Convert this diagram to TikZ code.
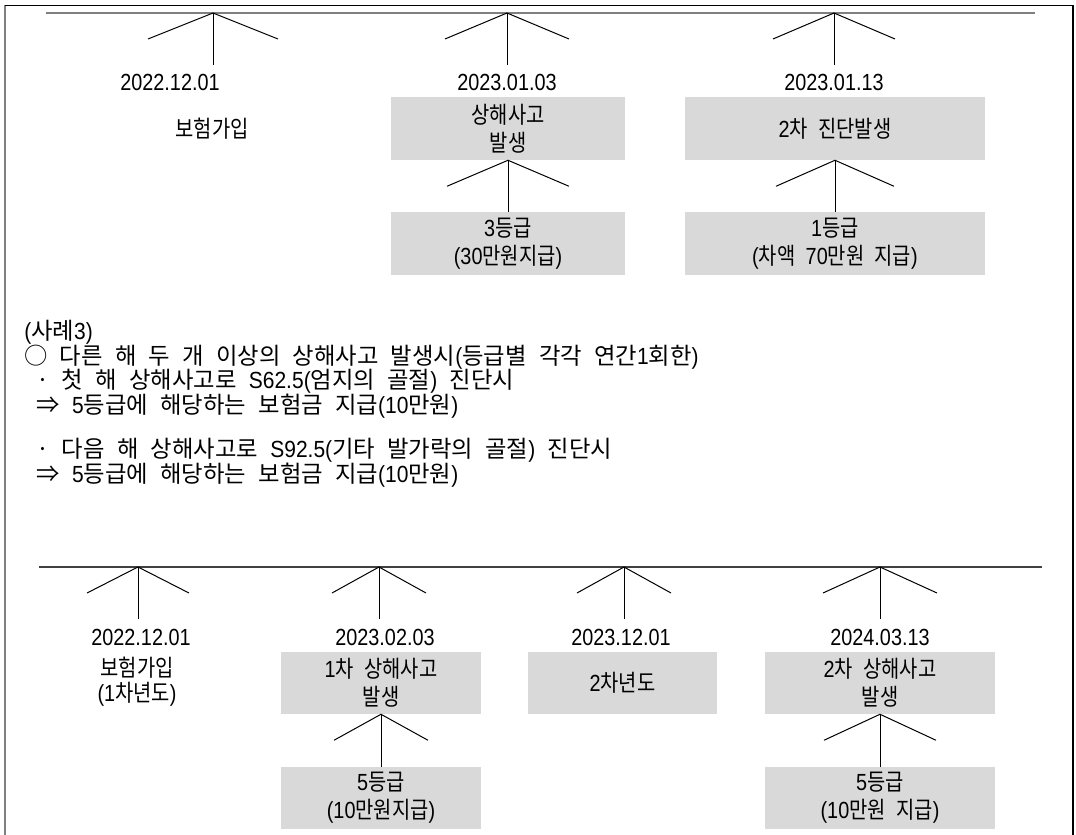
\documentclass[tikz,border=0pt]{standalone}
\usepackage{fontspec}
\setmainfont{Liberation Sans}[FakeStretch=0.85,WordSpace=1.9]
\newfontfamily\krf{Noto Sans CJK KR}[FakeStretch=0.85]
\newfontfamily\latf{Liberation Sans}[FakeStretch=0.85,WordSpace=1.9]
\newfontfamily\krw{Noto Sans CJK KR}
\newfontfamily\latw{Liberation Sans}[FakeStretch=0.9,WordSpace=2.1]
\newcommand\hgsel{\krf}
\newcommand\lasel{\latf}
\newcommand\widetext{\let\hgsel\krw\let\lasel\latw\latw}
% Hangul and a few symbols go to the Korean face
\XeTeXinterchartokenstate=1
\newXeTeXintercharclass\hgcls
\count255="AC00
\loop \XeTeXcharclass\count255=\hgcls
  \ifnum\count255<"D7A3 \advance\count255 by 1 \repeat
\XeTeXcharclass"25CB=\hgcls
\XeTeXcharclass"21D2=\hgcls
\XeTeXcharclass"00B7=\hgcls
\XeTeXinterchartoks 0 \hgcls = {\hgsel}
\XeTeXinterchartoks 4095 \hgcls = {\hgsel}
\XeTeXinterchartoks \hgcls 0 = {\lasel}
\XeTeXinterchartoks \hgcls 4095 = {\lasel}
\usepackage{xcolor}
\definecolor{boxgray}{RGB}{217,217,217}
\definecolor{railgray}{RGB}{128,128,128}
\definecolor{raildark}{RGB}{64,64,64}
\usepackage{tikz}
\usetikzlibrary{calc,positioning}
\newdimen\pxu \pxu=0.75pt
\tikzset{
  gbox/.style={fill=boxgray,draw=none,inner sep=0pt,align=center,%
    font=\fontsize{17.5}{21}\selectfont},
  dt/.style={inner sep=0pt,align=center,font=\fontsize{17.5}{21}\selectfont},
  txt/.style={inner sep=0pt,anchor=west,text height=13.5pt,text depth=3.5pt,%
    font=\widetext\fontsize{17.5}{20}\selectfont},
  rail/.style={line width=1.5pt,draw=railgray},
  tickln/.style={line width=0.75pt,draw=black},
}
% open wedge marker: apex, half width, end of stem
\newcommand\upmark[3]{%
  \draw[tickln] ($(#1)+(-#2,26)$) -- (#1) -- ($(#1)+(#2,26)$);
  \draw[tickln] (#1) -- (#3);}

\begin{document}
\begin{tikzpicture}[x=0.75pt,y=-0.75pt]
\useasboundingbox (0,0) rectangle (1076,835);
\draw[line width=1.5pt,draw=railgray] (5,835) -- (5,5);
\draw[line width=0.75pt] (5,5) -- (1073,5);
\draw[line width=1.5pt] (1073,5) -- (1073,835);

% upper time line
\coordinate (ua) at (46,13);
\coordinate (ub) at (1035,13);
\draw[rail] (ua) -- (ub);
\coordinate (t1) at (213,13); \coordinate (s1) at (213,65);
\coordinate (t2) at (507,13); \coordinate (s2) at (507,65);
\coordinate (t3) at (834,13); \coordinate (s3) at (834,65);
\upmark{t1}{65}{s1}
\upmark{t2}{62}{s2}
\upmark{t3}{61}{s3}
\node[dt] (d1) at (170,82) {2022.12.01};
\node[dt] (d2) at (507,82) {2023.01.03};
\node[dt] (d3) at (834,82) {2023.01.13};
\node[dt] (join1) at (212,129) {보험가입};
\node[gbox,minimum width=234\pxu,minimum height=63\pxu] (acc1) at (508,128.5) {상해사고\\발생};
\node[gbox,minimum width=300\pxu,minimum height=63\pxu] (acc2) at (835,128.5) {2차 진단발생};
\node[gbox,minimum width=234\pxu,minimum height=63\pxu] (pay1) at (508,243.5) {3등급\\(30만원지급)};
\node[gbox,minimum width=300\pxu,minimum height=63\pxu] (pay2) at (835,243.5) {1등급\\(차액 70만원 지급)};
\upmark{acc1.south}{61}{pay1.north}
\upmark{acc2.south}{59}{pay2.north}

% case text
\node[txt] (case) at (24,333) {(사례3)};
\node[txt] (l1) at (24,357.5) {○ 다른 해 두 개 이상의 상해사고 발생시(등급별 각각 연간1회한)};
\node[txt] (l2) at (24,382) {\ · 첫 해 상해사고로 S62.5(엄지의 골절) 진단시};
\node[txt] (l3) at (24,406.5) {\ ⇒ 5등급에 해당하는 보험금 지급(10만원)};
\node[txt] (l4) at (24,451) {\ · 다음 해 상해사고로 S92.5(기타 발가락의 골절) 진단시};
\node[txt] (l5) at (24,475.5) {\ ⇒ 5등급에 해당하는 보험금 지급(10만원)};

% lower time line
\coordinate (la) at (39,567);
\coordinate (lb) at (1042,567);
\draw[rail,draw=raildark,line width=1.1pt] (la) -- (lb);
\coordinate (q1) at (138,567); \coordinate (p1) at (138,619);
\coordinate (q2) at (379,567); \coordinate (p2) at (379,619);
\coordinate (q3) at (624,567); \coordinate (p3) at (624,619);
\coordinate (q4) at (880,567); \coordinate (p4) at (880,619);
\upmark{q1}{51}{p1}
\upmark{q2}{47}{p2}
\upmark{q3}{47}{p3}
\upmark{q4}{57}{p4}
\node[dt] (e1) at (141,637) {2022.12.01};
\node[dt] (e2) at (385,637) {2023.02.03};
\node[dt] (e3) at (621,637) {2023.12.01};
\node[dt] (e4) at (880,637) {2024.03.13};
\node[dt,font=\fontsize{17.5}{19}\selectfont] (join2) at (137,682) {보험가입\\(1차년도)};
\node[gbox,minimum width=200\pxu,minimum height=62\pxu] (inj1) at (381,683) {1차 상해사고\\발생};
\node[gbox,minimum width=189\pxu,minimum height=62\pxu] (yr2) at (622.5,683) {2차년도};
\node[gbox,minimum width=230\pxu,minimum height=62\pxu] (inj2) at (880,683) {2차 상해사고\\발생};
\node[gbox,minimum width=200\pxu,minimum height=62\pxu] (amt1) at (381,798) {5등급\\(10만원지급)};
\node[gbox,minimum width=230\pxu,minimum height=62\pxu] (amt2) at (880,798) {5등급\\(10만원 지급)};
\upmark{inj1.south}{47}{amt1.north}
\upmark{inj2.south}{56}{amt2.north}
\end{tikzpicture}
\end{document}
